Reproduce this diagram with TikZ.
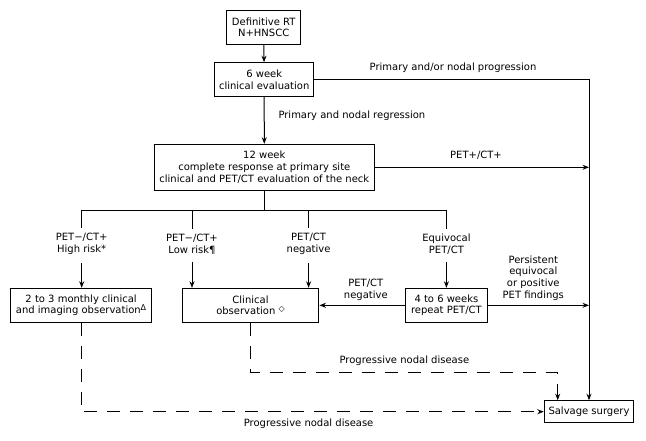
\documentclass[tikz,border=0pt]{standalone}
\usepackage{fontspec}
\setmainfont{DejaVu Sans}
\usetikzlibrary{arrows.meta}

\newcommand{\apice}[1]{\raisebox{3pt}{\fontsize{8}{8}\selectfont #1}}

\begin{document}
\begin{tikzpicture}[
    x=1pt, y=-1pt,   % coordinate in pixel, asse y verso il basso
    blocco/.style={draw=black, line width=1pt, align=center, inner sep=2pt},
    linea/.style={draw=black, line width=1pt},
    freccia/.style={linea, -{Stealth[length=6.5pt, width=5pt]}},
    progressione/.style={freccia, dash pattern=on 13pt off 10pt},
    nota/.style={align=center, inner sep=0pt},
    font=\fontsize{10}{11.7}\selectfont
]
    \useasboundingbox (0,0) rectangle (646,440);

    % =========================================================================
    % 1. BLOCCHI
    % =========================================================================
    \node[blocco, minimum width=73.6, minimum height=34] (rt) at (263.7,27.3) {Definitive RT\\N+HNSCC};
    \node[blocco, minimum width=98.7, minimum height=33.6] (eval6) at (264.2,79.5) {6 week\\clinical evaluation};
    \node[blocco, minimum width=220.4, minimum height=46] (eval12) at (264.3,167.3)
        {12 week\\complete response at primary site\\clinical and PET/CT evaluation of the neck};

    \node[blocco, minimum width=141.7, minimum height=34] (monthly) at (81.1,305.3)
        {2 to 3 monthly clinical\\and imaging observation\apice{Δ}};
    \node[blocco, minimum width=136.9, minimum height=34] (clinobs) at (250.5,305.3)
        {Clinical\\observation \apice{◇}};
    \node[blocco, minimum width=82.1, minimum height=34] (repeat) at (446.4,305.3) {4 to 6 weeks\\repeat PET/CT};
    \node[blocco, minimum width=89.5, minimum height=22] (salvage) at (589,411.7) {Salvage surgery};

    % =========================================================================
    % 2. ETICHETTE
    % =========================================================================
    \node[nota] (lblprog) at (453,67.7) {Primary and/or nodal progression};
    \node[nota, anchor=west] (lblregr) at (278.3,116) {Primary and nodal regression};
    \node[nota] (lblpos) at (476,155.7) {PET+/CT+};

    \node[nota] (lblhigh) at (81.7,244) {PET−/CT+\\High risk*};
    \node[nota] (lbllow) at (192,244) {PET−/CT+\\Low risk¶};
    \node[nota] (lblneg) at (308.6,244) {PET/CT\\negative};
    \node[nota] (lbleq) at (446.4,244) {Equivocal\\PET/CT};

    \node[nota] (lblrepneg) at (365.8,290) {PET/CT\\negative};
    \node[nota] (lblpers) at (533.3,278) {Persistent\\equivocal\\or positive\\PET findings};

    \node[nota] (lbldisup) at (404.4,360.7) {Progressive nodal disease};
    \node[nota] (lbldislow) at (308.6,423.3) {Progressive nodal disease};

    % =========================================================================
    % 3. COLLEGAMENTI
    % =========================================================================
    \draw[freccia] (rt) -- (eval6);
    \draw[freccia] (eval6) -- (eval12);
    \draw[freccia] (eval6.east) -| (salvage.north);
    \draw[freccia] (eval12.east) -- (eval12.east -| salvage.north);

    % Diramazione sotto la valutazione a 12 settimane
    \coordinate (split) at (264.3,210.3);
    \draw[linea] (eval12.south) -- (split);
    \draw[linea] (lblhigh.north |- split) -- (lbleq.north |- split);
    \foreach \lbl/\dest in {lblhigh/monthly, lbllow/clinobs, lblneg/clinobs, lbleq/repeat} {
        \draw[linea] (\lbl.north |- split) -- ([yshift=5pt]\lbl.north);
        \draw[freccia] ([yshift=-8pt]\lbl.south) -- (\lbl.south |- \dest.north);
    }

    \draw[freccia] (repeat.west) -- (clinobs.east);
    \draw[freccia] (repeat.east) -- (repeat.east -| salvage.north);

    % Progressione nodale (tratteggio)
    \coordinate (svolta) at (557.7,372.7);
    \draw[progressione] (clinobs.south) |- (svolta) -- (svolta |- salvage.north);
    \draw[progressione] (monthly.south) |- (salvage.west);

\end{tikzpicture}
\end{document}
